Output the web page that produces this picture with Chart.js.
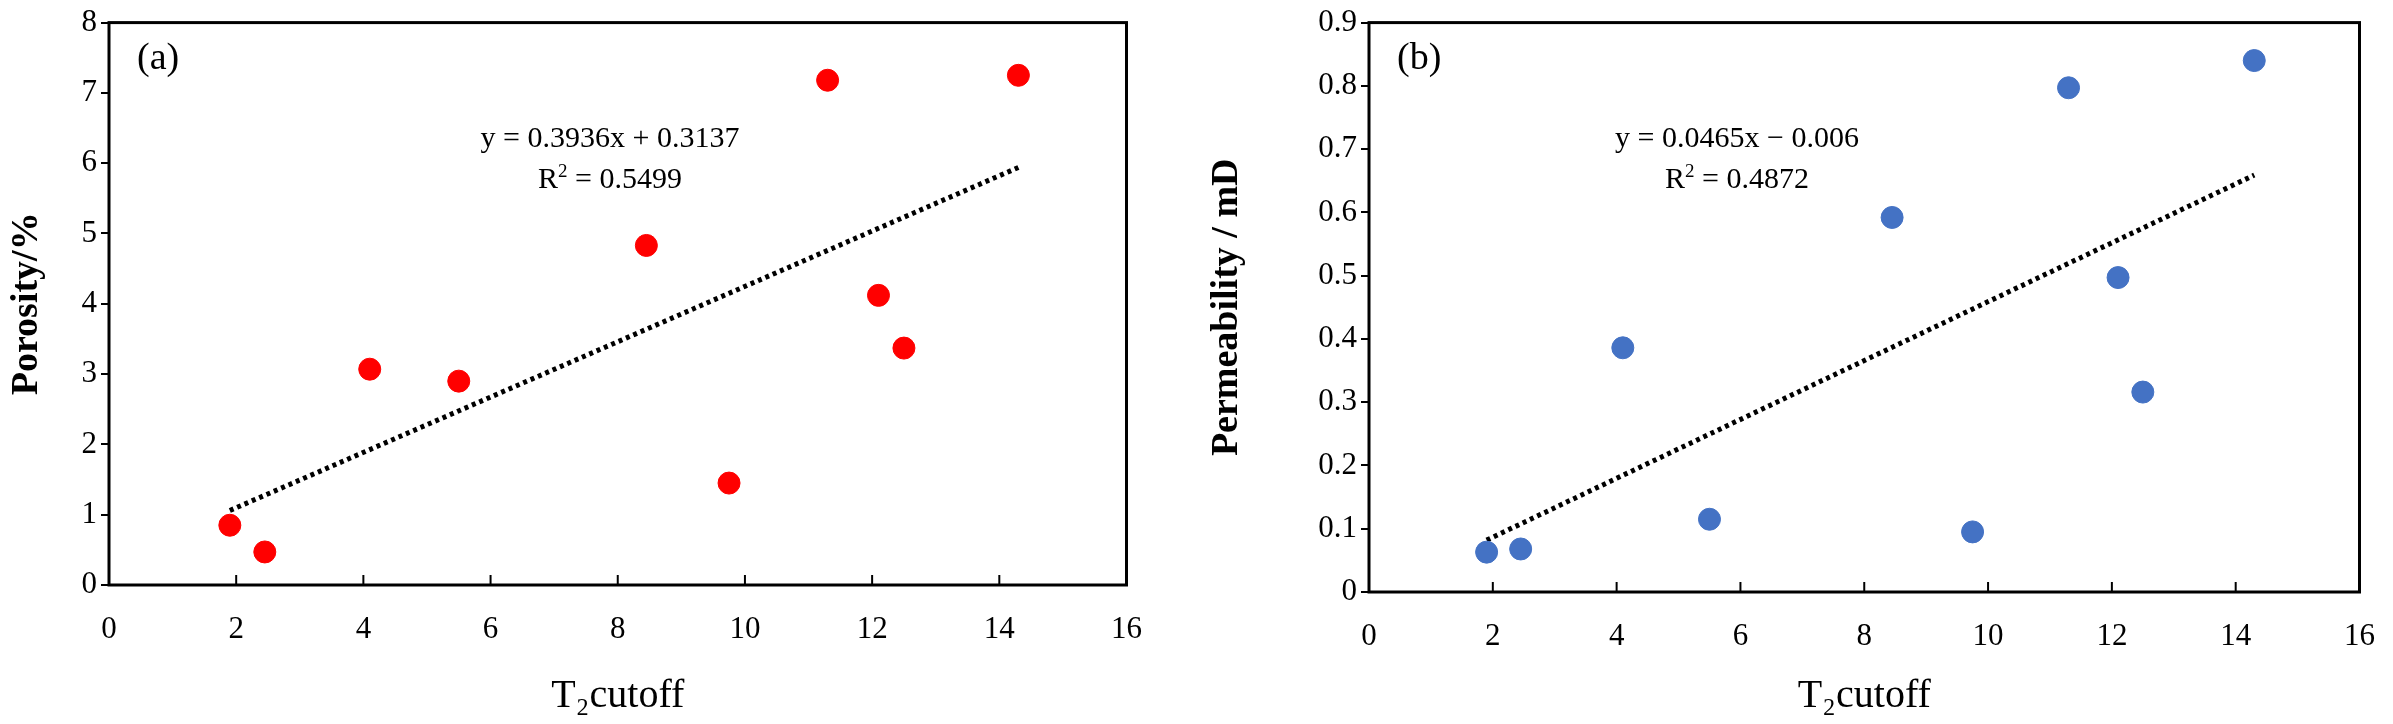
<!DOCTYPE html>
<html>
<head>
<meta charset="utf-8">
<script src="https://cdn.jsdelivr.net/npm/chart.js@4.4.1/dist/chart.umd.min.js"></script>
<style>
body { margin:0; background:#fff; width:2393px; height:724px; overflow:hidden; position:relative; }
.box { position:absolute; top:0; height:724px; }
</style>
</head>
<body>
<div class="box" style="left:0;width:1160px"><canvas id="chartA"></canvas></div>
<div class="box" style="left:1200px;width:1193px"><canvas id="chartB"></canvas></div>
<script>
// samples, T2cutoff on x
var t2cutoff = [1.9, 2.45, 4.1, 5.5, 8.45, 9.75, 11.3, 12.1, 12.5, 14.3];
var porosity = [0.85, 0.47, 3.07, 2.9, 4.83, 1.45, 7.18, 4.12, 3.37, 7.25];
var permeability = [0.063, 0.068, 0.386, 0.115, 0.592, 0.095, 0.797, 0.497, 0.316, 0.84];

// trend line end points
var trendX = [1.9, 14.3];
var trendPoro = [1.06, 5.94];
var trendPerm = [0.082, 0.659];

var serif = "'Liberation Serif', 'DejaVu Serif', serif";

function pts(xs, ys){
    var out = [];
    for(var i = 0; i < xs.length; i++){
        out.push({x: xs[i], y: ys[i]});
    }
    return out;
}

// frame, inward x ticks and the labels inside the plot
var frame = {
    id: 'frame',
    afterDraw: function(chart, args, opts){
        var ctx = chart.ctx, a = chart.chartArea, xs = chart.scales.x;
        ctx.save();
        ctx.strokeStyle = '#000';
        ctx.lineWidth = 3;
        ctx.strokeRect(a.left, a.top, a.right - a.left, a.bottom - a.top);
        ctx.lineWidth = 2;
        for(var v = 2; v < 16; v += 2){
            var px = xs.getPixelForValue(v);
            ctx.beginPath();
            ctx.moveTo(px, a.bottom);
            ctx.lineTo(px, a.bottom - 10);
            ctx.stroke();
        }
        ctx.fillStyle = '#000';
        ctx.textBaseline = 'middle';
        ctx.font = '38px ' + serif;
        ctx.textAlign = 'left';
        ctx.fillText(opts.tag, a.left + 28, a.top + 36);
        ctx.font = '30px ' + serif;
        ctx.textAlign = 'center';
        ctx.fillText(opts.eq, a.left + opts.ex, a.top + 117);
        // R squared with superscript
        var r = 'R', s = '2', rest = ' = ' + opts.r2;
        var wR = ctx.measureText(r).width, wRest = ctx.measureText(rest).width;
        ctx.font = '19px ' + serif;
        var wS = ctx.measureText(s).width;
        var x0 = a.left + opts.ex - (wR + wS + wRest) / 2;
        ctx.textAlign = 'left';
        ctx.font = '30px ' + serif;
        ctx.fillText(r, x0, a.top + 158);
        ctx.fillText(rest, x0 + wR + wS, a.top + 158);
        ctx.font = '19px ' + serif;
        ctx.fillText(s, x0 + wR, a.top + 149);
        ctx.restore();
    }
};

function makeChart(id, ys, trend, color, yMax, yStep, yTitle, yWidth, xHeight, pad, extra){
    return new Chart(document.getElementById(id), {
        type: 'scatter',
        data: {
            datasets: [{
                data: pts(t2cutoff, ys),
                backgroundColor: color,
                borderColor: color,
                pointRadius: 11,
                pointHoverRadius: 11
            }, {
                data: pts(trendX, trend),
                showLine: true,
                borderColor: '#000',
                borderWidth: 5,
                borderDash: [4, 4],
                pointRadius: 0
            }]
        },
        plugins: [frame],
        options: {
            responsive: false,
            animation: false,
            devicePixelRatio: 1,
            layout: { padding: pad },
            plugins: { legend: { display: false }, tooltip: { enabled: false }, frame: extra },
            scales: {
                x: {
                    min: 0, max: 16,
                    grid: { display: false },
                    border: { display: false },
                    ticks: { stepSize: 2, color: '#000', font: { family: serif, size: 31 }, padding: 18 },
                    title: { display: true, text: 'T₂cutoff', color: '#000', font: { family: serif, size: 40 } },
                    afterFit: function(s){ s.height = xHeight; }
                },
                y: {
                    min: 0, max: yMax,
                    grid: { drawOnChartArea: false, color: '#000', tickLength: 8, lineWidth: 2 },
                    border: { display: false },
                    ticks: { stepSize: yStep, color: '#000', font: { family: serif, size: 31 }, padding: 4 },
                    title: { display: true, text: yTitle, color: '#000', font: { family: serif, size: 38, weight: 'bold' } },
                    afterFit: function(s){ s.width = yWidth; }
                }
            }
        }
    });
}

var ca = document.getElementById('chartA'); ca.width = 1160; ca.height = 724;
var cb = document.getElementById('chartB'); cb.width = 1193; cb.height = 724;

makeChart('chartA', porosity, trendPoro, '#ff0000', 8, 1, 'Porosity/%', 109, 139,
    { top: 20, right: 20, left: 0, bottom: 0 },
    { tag: '(a)', eq: 'y = 0.3936x + 0.3137', r2: '0.5499', ex: 501 });
makeChart('chartB', permeability, trendPerm, '#4472c4', 0.9, 0.1, 'Permeability / mD', 169, 132,
    { top: 17, right: 14, left: 0, bottom: 0 },
    { tag: '(b)', eq: 'y = 0.0465x − 0.006', r2: '0.4872', ex: 368 });
</script>
</body>
</html>
